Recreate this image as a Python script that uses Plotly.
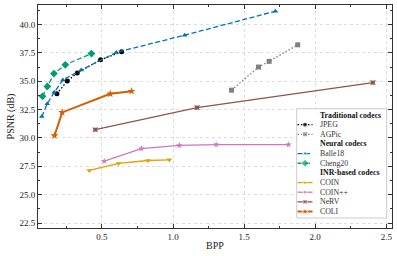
import plotly.graph_objects as go

# ---- data ----
jpeg_bpp = [0.183, 0.256, 0.326, 0.490, 0.638]
jpeg_psnr = [33.89, 35.03, 35.73, 36.89, 37.60]

agpic_bpp = [1.411, 1.601, 1.676, 1.877]
agpic_psnr = [34.21, 36.25, 36.75, 38.21]

balle_bpp = [0.077, 0.115, 0.164, 0.225, 0.354, 0.601, 1.082, 1.720]
balle_psnr = [31.89, 33.01, 34.02, 35.11, 35.99, 37.54, 39.06, 41.17]

cheng_bpp = [0.082, 0.116, 0.162, 0.242, 0.426]
cheng_psnr = [33.67, 34.54, 35.67, 36.45, 37.44]

coin_bpp = [0.411, 0.617, 0.824, 0.974]
coin_psnr = [27.13, 27.75, 28.01, 28.07]

coinpp_bpp = [0.516, 0.777, 1.044, 1.303, 1.812]
coinpp_psnr = [27.95, 29.06, 29.35, 29.41, 29.41]

nerv_bpp = [0.453, 1.169, 2.406]
nerv_psnr = [30.73, 32.68, 34.88]

coli_bpp = [0.166, 0.220, 0.558, 0.708]
coli_psnr = [30.20, 32.25, 33.89, 34.12]

FONT = "Liberation Serif"
W, H = 397, 256
ML, MR, MT, MB = 38, 5, 5, 28

DASH = "5px,2.5px"
DOT = "1.5px,2px"

# series definitions: name, x, y, color, dash, symbol, line width, marker size, group title
series = [
    ("JPEG", jpeg_bpp, jpeg_psnr, "black", DOT, "circle", 1.3, 5, "Traditional codecs"),
    ("AGPic", agpic_bpp, agpic_psnr, "#808080", DOT, "square", 1.3, 5, "Traditional codecs"),
    ("Balle18", balle_bpp, balle_psnr, "#0173B2", DASH, "triangle-up", 1.3, 5, "Neural codecs"),
    ("Cheng20", cheng_bpp, cheng_psnr, "#029E73", DASH, "diamond", 1.3, 6, "Neural codecs"),
    ("COIN", coin_bpp, coin_psnr, "#E69F00", "solid", "triangle-down", 1.3, 5, "INR-based codecs"),
    ("COIN++", coinpp_bpp, coinpp_psnr, "#CC78BC", "solid", "star", 1.3, 5, "INR-based codecs"),
    ("NeRV", nerv_bpp, nerv_psnr, "#8C564B", "solid", "star-square", 1.3, 5, "INR-based codecs"),
    ("COLI", coli_bpp, coli_psnr, "#D55E00", "solid", "star", 2.0, 6, "INR-based codecs"),
]

fig = go.Figure()
for name, x, y, color, dash, symbol, lw, ms, _ in series:
    fig.add_trace(go.Scatter(
        x=x, y=y, name=name, mode="lines+markers", showlegend=False,
        line=dict(color=color, dash=dash, width=lw),
        marker=dict(color=color, symbol=symbol, size=ms),
    ))

# ---- custom compact legend (pixel-space overlay axes) ----
box_x0, box_x1, box_y0, box_y1 = 296.7, 386.7, 108.7, 218.0
row_y0, row_step = 115.0, 9.65
glyph_x = [297.5, 305.0, 312.5]
text_x = 317.5

fig.add_trace(go.Scatter(
    x=[box_x0, box_x1, box_x1, box_x0, box_x0], y=[box_y0, box_y0, box_y1, box_y1, box_y0],
    xaxis="x2", yaxis="y2", mode="lines", fill="toself", fillcolor="rgba(255,255,255,0.93)",
    line=dict(color="#cccccc", width=1), showlegend=False, hoverinfo="skip",
))

row = 0
last_group = None
for name, x, y, color, dash, symbol, lw, ms, gtitle in series:
    if gtitle != last_group:
        fig.add_annotation(xref="x2", yref="y2", x=text_x, y=row_y0 + row * row_step,
                           text=f"<b>{gtitle}</b>", showarrow=False, xanchor="left", yanchor="middle",
                           font=dict(family=FONT, size=7.8, color="#111"))
        row += 1
        last_group = gtitle
    yy = row_y0 + row * row_step
    fig.add_trace(go.Scatter(
        x=glyph_x, y=[yy] * 3, xaxis="x2", yaxis="y2", mode="lines+markers", showlegend=False,
        hoverinfo="skip",
        line=dict(color=color, dash=dash, width=lw),
        marker=dict(color=color, symbol=symbol, size=[0, ms, 0]),
    ))
    fig.add_annotation(xref="x2", yref="y2", x=text_x, y=yy, text=name, showarrow=False,
                       xanchor="left", yanchor="middle", font=dict(family=FONT, size=7.8, color="#333"))
    row += 1

axis_common = dict(
    showline=True, linecolor="#333", linewidth=1, mirror="ticks",
    ticks="inside", ticklen=4, tickcolor="#333",
    showgrid=True, gridcolor="#dddddd", griddash="dot", gridwidth=0.8,
    zeroline=False,
    tickfont=dict(family=FONT, size=9, color="#222"),
)

fig.update_layout(
    width=W, height=H,
    margin=dict(l=ML, r=MR, t=MT, b=MB, autoexpand=False),
    paper_bgcolor="white", plot_bgcolor="white",
    font=dict(family=FONT, size=9, color="#222"),
    showlegend=False,
    xaxis=dict(**axis_common, range=[0.05, 2.54], dtick=0.5, tick0=0,
               tickformat=".1f",
               minor=dict(ticks="inside", ticklen=2, dtick=0.25, tick0=0, tickcolor="#333", showgrid=False),
               title=dict(text="BPP", font=dict(family=FONT, size=10), standoff=1)),
    yaxis=dict(**axis_common, range=[22.06, 41.72], dtick=2.5, tick0=0,
               tickformat=".1f",
               minor=dict(ticks="inside", ticklen=2, dtick=1.25, tick0=0, tickcolor="#333", showgrid=False),
               title=dict(text="PSNR (dB)", font=dict(family=FONT, size=10), standoff=2)),
    xaxis2=dict(overlaying="x", visible=False, range=[ML, W - MR], fixedrange=True),
    yaxis2=dict(overlaying="y", visible=False, range=[H - MB, MT], fixedrange=True),
)

fig.write_html("out.html", post_script="document.body.style.margin='0';",
               config={"displayModeBar": False})
